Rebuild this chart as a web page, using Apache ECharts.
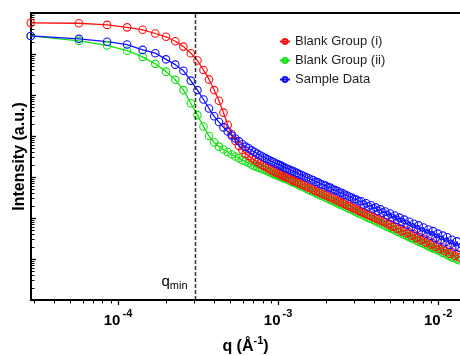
<!DOCTYPE html>
<html>
<head>
<meta charset="utf-8">
<script src="https://cdn.jsdelivr.net/npm/echarts@6/dist/echarts.min.js"></script>
<style>
  html, body { margin: 0; padding: 0; background: #fff; }
  #chart { width: 460px; height: 356px; }
</style>
</head>
<body>
<div id="chart"></div>
<script>
// q values (1/Å)
const q = [
  2.85e-5, 5.7e-5, 8.55e-5, 1.14e-4, 1.425e-4, 1.71e-4, 1.995e-4, 2.28e-4, 2.565e-4, 2.85e-4,
  3.135e-4, 3.42e-4, 3.705e-4, 3.99e-4, 4.275e-4, 4.56e-4, 4.845e-4, 5.13e-4, 5.415e-4, 5.7e-4,
  5.985e-4, 6.27e-4, 6.555e-4, 6.84e-4, 7.125e-4, 7.41e-4, 7.695e-4, 7.98e-4, 8.265e-4, 8.55e-4,
  8.835e-4, 9.12e-4, 9.405e-4, 9.69e-4, 9.975e-4, 1.026e-3, 1.0545e-3, 1.083e-3, 1.1115e-3, 1.14e-3,
  1.18e-3, 1.22e-3, 1.26e-3, 1.31e-3, 1.35e-3, 1.40e-3, 1.45e-3, 1.50e-3, 1.55e-3, 1.61e-3,
  1.66e-3, 1.72e-3, 1.78e-3, 1.84e-3, 1.91e-3, 1.98e-3, 2.05e-3, 2.12e-3, 2.19e-3, 2.27e-3,
  2.35e-3, 2.43e-3, 2.52e-3, 2.60e-3, 2.70e-3, 2.79e-3, 2.89e-3, 2.99e-3, 3.09e-3, 3.20e-3,
  3.31e-3, 3.43e-3, 3.55e-3, 3.67e-3, 3.80e-3, 3.94e-3, 4.07e-3, 4.22e-3, 4.36e-3, 4.52e-3,
  4.67e-3, 4.84e-3, 5.01e-3, 5.18e-3, 5.36e-3, 5.55e-3, 5.74e-3, 5.94e-3, 6.15e-3, 6.37e-3,
  6.59e-3, 6.82e-3, 7.06e-3, 7.31e-3, 7.56e-3, 7.83e-3, 8.10e-3, 8.38e-3, 8.68e-3, 8.98e-3,
  9.29e-3, 9.62e-3, 9.96e-3, 1.03e-2, 1.07e-2, 1.10e-2, 1.14e-2, 1.18e-2, 1.22e-2, 1.27e-2,
  1.31e-2, 1.36e-2
];

// log10 of intensity (a.u.)
const blankI = [
  6.76, 6.75, 6.71, 6.65, 6.59, 6.50, 6.42, 6.31, 6.18, 6.02,
  5.84, 5.61, 5.38, 5.12, 4.86, 4.57, 4.27, 4.05, 3.88, 3.76,
  3.66, 3.57, 3.51, 3.46, 3.41, 3.37, 3.33, 3.29, 3.26, 3.22,
  3.19, 3.16, 3.14, 3.11, 3.09, 3.07, 3.04, 3.02, 3.00, 2.99,
  2.96, 2.93, 2.90, 2.88, 2.85, 2.82, 2.80, 2.77, 2.74, 2.72,
  2.69, 2.66, 2.64, 2.61, 2.58, 2.56, 2.53, 2.50, 2.48, 2.45,
  2.42, 2.40, 2.37, 2.34, 2.31, 2.29, 2.26, 2.23, 2.21, 2.18,
  2.15, 2.13, 2.10, 2.07, 2.05, 2.02, 1.99, 1.97, 1.94, 1.92,
  1.90, 1.85, 1.85, 1.79, 1.80, 1.73, 1.75, 1.68, 1.70, 1.62,
  1.65, 1.57, 1.60, 1.51, 1.54, 1.46, 1.49, 1.40, 1.44, 1.35,
  1.38, 1.30, 1.33, 1.24, 1.28, 1.19, 1.23, 1.13, 1.17, 1.08,
  1.12, 1.04
];
const blankII = [
  6.44, 6.32, 6.21, 6.08, 5.93, 5.76, 5.57, 5.37, 5.12, 4.80,
  4.51, 4.23, 4.00, 3.84, 3.74, 3.67, 3.61, 3.55, 3.50, 3.46,
  3.41, 3.38, 3.34, 3.30, 3.27, 3.24, 3.22, 3.19, 3.17, 3.14,
  3.12, 3.10, 3.07, 3.05, 3.03, 3.01, 2.99, 2.97, 2.96, 2.94,
  2.91, 2.88, 2.86, 2.83, 2.80, 2.77, 2.75, 2.72, 2.69, 2.66,
  2.64, 2.61, 2.58, 2.55, 2.53, 2.50, 2.47, 2.44, 2.42, 2.39,
  2.36, 2.33, 2.31, 2.28, 2.25, 2.22, 2.20, 2.17, 2.14, 2.11,
  2.09, 2.06, 2.03, 2.00, 1.98, 1.95, 1.92, 1.89, 1.87, 1.84,
  1.81, 1.78, 1.76, 1.73, 1.70, 1.67, 1.65, 1.62, 1.59, 1.56,
  1.54, 1.51, 1.48, 1.45, 1.43, 1.40, 1.37, 1.35, 1.31, 1.29,
  1.26, 1.25, 1.21, 1.19, 1.15, 1.14, 1.10, 1.08, 1.04, 1.03,
  0.99, 0.97
];
const sample = [
  6.44, 6.37, 6.30, 6.23, 6.10, 6.02, 5.87, 5.74, 5.59, 5.35,
  5.12, 4.89, 4.67, 4.48, 4.34, 4.21, 4.11, 4.01, 3.94, 3.87,
  3.80, 3.74, 3.70, 3.65, 3.61, 3.57, 3.53, 3.50, 3.47, 3.44,
  3.41, 3.38, 3.36, 3.33, 3.31, 3.29, 3.27, 3.24, 3.22, 3.20,
  3.18, 3.15, 3.13, 3.10, 3.07, 3.05, 3.02, 2.99, 2.97, 2.94,
  2.92, 2.88, 2.87, 2.83, 2.81, 2.79, 2.75, 2.74, 2.70, 2.68,
  2.66, 2.62, 2.61, 2.57, 2.55, 2.52, 2.50, 2.46, 2.45, 2.41,
  2.41, 2.33, 2.36, 2.28, 2.31, 2.23, 2.26, 2.17, 2.21, 2.13,
  2.16, 2.06, 2.11, 2.00, 2.06, 1.95, 2.01, 1.90, 1.96, 1.84,
  1.91, 1.78, 1.86, 1.73, 1.82, 1.67, 1.77, 1.62, 1.72, 1.57,
  1.68, 1.51, 1.62, 1.46, 1.57, 1.41, 1.53, 1.35, 1.47, 1.30,
  1.43, 1.27
];

const qMin = 3.03e-4;
const xRange = [2.86e-5, 1.37e-2];
const yRange = [1, 1e7];

const FONT = '"Liberation Sans", Arial, sans-serif';
const toPairs = logs => q.map((x, i) => [x, Math.pow(10, logs[i])]);

const makeSeries = (name, color, logs) => ({
  name,
  type: 'line',
  data: toPairs(logs),
  symbol: 'circle',
  symbolSize: 7.5,
  clip: false,
  itemStyle: { color: 'rgba(255,255,255,0)', borderColor: color, borderWidth: 1.1 },
  lineStyle: { color, width: 1.3 },
  emphasis: { disabled: true }
});

const chart = echarts.init(document.getElementById('chart'));

const option = {
  animation: false,
  backgroundColor: '#fff',
  grid: { left: 31, right: 0, top: 13, bottom: 56, containLabel: false, outerBoundsMode: 'none' },
  legend: {
    orient: 'vertical',
    left: 279,
    top: 35,
    padding: 0,
    itemWidth: 10,
    itemHeight: 6,
    itemGap: 6,
    textStyle: { fontFamily: FONT, fontSize: 13, color: '#222' },
    data: ['Blank Group (i)', 'Blank Group (ii)', 'Sample Data']
  },
  xAxis: [
    {
      type: 'log',
      min: xRange[0],
      max: xRange[1],
      axisLine: { lineStyle: { color: '#000', width: 2 } },
      axisTick: { inside: false, length: 5, lineStyle: { color: '#000', width: 1.3 } },
      splitLine: { show: false },
      axisLabel: {
        showMinLabel: false,
        showMaxLabel: false,
        margin: 8,
        formatter: v => '{b|10}{s|' + Math.round(Math.log10(v)) + '}',
        rich: {
          b: { fontFamily: FONT, fontSize: 15, fontWeight: 'bold', color: '#000', lineHeight: 20, verticalAlign: 'bottom' },
          s: { fontFamily: FONT, fontSize: 11, fontWeight: 'bold', color: '#000', lineHeight: 11, verticalAlign: 'top', padding: [0, 0, 0, 2] }
        }
      },
      name: '{a|q (Å}{s|-1}{a|)}',
      nameLocation: 'middle',
      nameGap: 35,
      nameTextStyle: {
        rich: {
          a: { fontFamily: FONT, fontSize: 16, fontWeight: 'bold', color: '#000', lineHeight: 20, verticalAlign: 'bottom' },
          s: { fontFamily: FONT, fontSize: 11, fontWeight: 'bold', color: '#000', lineHeight: 11, verticalAlign: 'top' }
        }
      }
    },
    {
      type: 'log',
      position: 'top',
      min: xRange[0],
      max: xRange[1],
      axisLine: { lineStyle: { color: '#000', width: 2 } },
      axisTick: { show: false },
      axisLabel: { show: false },
      splitLine: { show: false }
    }
  ],
  yAxis: {
    type: 'log',
    min: yRange[0],
    max: yRange[1],
    splitNumber: 7,
    axisLine: { lineStyle: { color: '#000', width: 2 } },
    axisTick: { inside: true, length: 5, lineStyle: { color: '#000', width: 1.3 } },
    axisLabel: { show: false },
    splitLine: { show: false },
    name: 'Intensity (a.u.)',
    nameLocation: 'middle',
    nameGap: 3,
    nameTextStyle: { fontFamily: FONT, fontSize: 16, fontWeight: 'bold', color: '#000' }
  },
  series: [
    makeSeries('Blank Group (ii)', '#11e011', blankII),
    makeSeries('Blank Group (i)', '#ff1010', blankI),
    makeSeries('Sample Data', '#1010ff', sample)
  ]
};

chart.setOption(option);

// minor ticks at 2..9 x 10^k, the q_min dashed line and its note
const baseY = chart.convertToPixel({ yAxisIndex: 0 }, yRange[0]);
const topY = chart.convertToPixel({ yAxisIndex: 0 }, yRange[1]);
const baseX = chart.convertToPixel({ xAxisIndex: 0 }, xRange[0]);
const tickStyle = { stroke: '#000', lineWidth: 1 };
const graphics = [];
for (let k = -5; k <= -2; k++) {
  for (let m = 2; m <= 9; m++) {
    const v = m * Math.pow(10, k);
    if (v < xRange[0] || v > xRange[1]) continue;
    const px = Math.round(chart.convertToPixel({ xAxisIndex: 0 }, v)) + 0.5;
    graphics.push({ type: 'line', silent: true, shape: { x1: px, y1: baseY, x2: px, y2: baseY + 3.5 }, style: tickStyle });
  }
}
for (let k = 0; k <= 6; k++) {
  for (let m = 2; m <= 9; m++) {
    const v = m * Math.pow(10, k);
    const py = Math.round(chart.convertToPixel({ yAxisIndex: 0 }, v)) + 0.5;
    graphics.push({ type: 'line', silent: true, shape: { x1: baseX, y1: py, x2: baseX + 3.5, y2: py }, style: tickStyle });
  }
}
const qMinX = Math.round(chart.convertToPixel({ xAxisIndex: 0 }, qMin)) + 0.5;
graphics.push({
  type: 'line',
  silent: true,
  z: 10,
  shape: { x1: qMinX, y1: topY + 1, x2: qMinX, y2: baseY - 1 },
  style: { stroke: '#333', lineWidth: 1.5, lineDash: [4, 2] }
});
graphics.push({
  type: 'text',
  silent: true,
  x: qMinX - 8,
  y: 291,
  style: {
    text: '{q|q}{m|min}',
    align: 'right',
    verticalAlign: 'bottom',
    rich: {
      q: { fontFamily: FONT, fontSize: 15, color: '#333', lineHeight: 17, verticalAlign: 'top' },
      m: { fontFamily: FONT, fontSize: 11, color: '#333', lineHeight: 12, verticalAlign: 'bottom' }
    }
  }
});
chart.setOption({ graphic: graphics });
</script>
</body>
</html>
